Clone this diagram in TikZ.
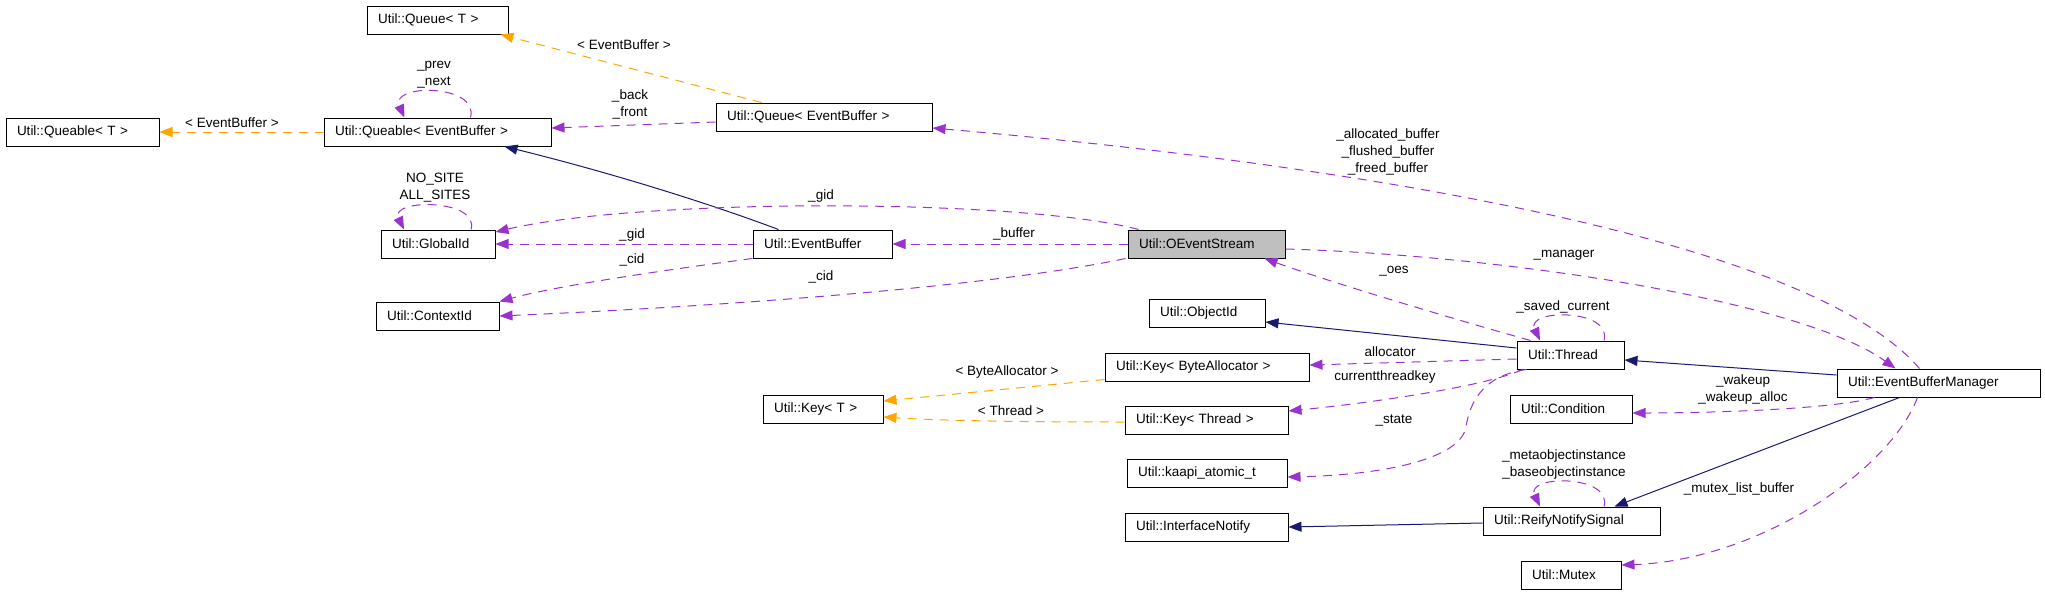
\documentclass[tikz,border=0pt]{standalone}
\usepackage{fontspec}
\setmainfont{Liberation Sans}
\usetikzlibrary{arrows.meta,calc}
\definecolor{edgeorange}{HTML}{FFA500}
\definecolor{edgepurple}{HTML}{9A32CD}
\definecolor{edgenavy}{HTML}{191970}
\definecolor{focusgray}{HTML}{BFBFBF}
\begin{document}
\begin{tikzpicture}[x=1pt,y=-1pt,
  font=\fontsize{13.5}{17}\selectfont,
  cls/.style={draw=black, line width=1pt, minimum height=28pt, inner xsep=11pt, inner ysep=0pt, align=left},
  lbl/.style={inner sep=0pt, align=center},
  tip/.style={-{Triangle[length=13pt,width=10pt]}},
  tmpl/.style={tip, draw=edgeorange, fill=none, line width=1pt, dash pattern=on 9pt off 7pt},
  usage/.style={tip, draw=edgepurple, line width=1pt, dash pattern=on 9pt off 7pt},
  inherit/.style={tip, draw=edgenavy, line width=1pt},
]
\useasboundingbox (0,0) rectangle (2045,595);

% classes
\node[cls, text width=119pt] (qT)   at (437.5,20)  {Util::Queue< T >};
\node[cls, text width=131pt] (qbT)  at (82.5,132)  {Util::Queable< T >};
\node[cls, text width=205pt] (qbE)  at (437.5,132) {Util::Queable< EventBuffer >};
\node[cls, text width=194pt] (qE)   at (824,117)   {Util::Queue< EventBuffer >};
\node[cls, text width=92pt]  (gid)  at (438,244)   {Util::GlobalId};
\node[cls, text width=101pt] (cid)  at (437.5,316) {Util::ContextId};
\node[cls, text width=117pt] (eb)   at (822.5,244) {Util::EventBuffer};
\node[cls, text width=135pt, fill=focusgray] (oes) at (1206.5,244) {Util::OEventStream};
\node[cls, text width=94pt]  (oid)  at (1207,313)  {Util::ObjectId};
\node[cls, text width=182pt] (kba)  at (1207,367)  {Util::Key< ByteAllocator >};
\node[cls, text width=98pt]  (kT)   at (823,409)   {Util::Key< T >};
\node[cls, text width=141pt] (kth)  at (1206.5,420) {Util::Key< Thread >};
\node[cls, text width=138pt] (kat)  at (1207,473)  {Util::kaapi\_atomic\_t};
\node[cls, text width=141pt] (inot) at (1206.5,527) {Util::InterfaceNotify};
\node[cls, text width=85pt]  (th)   at (1570.5,355) {Util::Thread};
\node[cls, text width=181pt] (ebm)  at (1938.5,383) {Util::EventBufferManager};
\node[cls, text width=100pt] (cond) at (1571,409)  {Util::Condition};
\node[cls, text width=155pt] (rns)  at (1571.5,521) {Util::ReifyNotifySignal};
\node[cls, text width=78pt]  (mtx)  at (1571,575)  {Util::Mutex};

% template instantiations
\draw[tmpl] (qbE.west) -- (qbT.east);
\node[lbl] (l1) at (232,123) {< EventBuffer >};
\draw[tmpl] ($(qE.north west)+(46,0)$) -- ($(qT.south east)+(-8,0)$);
\node[lbl] (l2) at (624,45) {< EventBuffer >};
\draw[tmpl] ($(kba.south west)+(0,-2)$) -- ($(kT.east)+(0,-8)$);
\node[lbl] (l3) at (1007,372) {< ByteAllocator >};
\draw[tmpl] ($(kth.west)+(0,2)$) .. controls (1000,422) and (930,420) .. ($(kT.east)+(0,8)$);
\node[lbl] (l4) at (1011,411) {< Thread >};

% inheritance
\draw[inherit] ($(eb.north west)+(26,0)$) .. controls (700,200) and (600,170) .. ($(qbE.south west)+(181,0)$);
\draw[inherit] ($(th.west)+(0,-7)$) -- ($(oid.east)+(0,9)$);
\draw[inherit] ($(ebm.west)+(0,-8)$) -- ($(th.east)+(0,5)$);
\draw[inherit] ($(ebm.south west)+(63,0)$) -- ($(rns.north east)+(-46,0)$);
\draw[inherit] ($(rns.west)+(0,2)$) -- (inot.east);

% usage
\draw[usage] ($(qE.west)+(0,5)$) -- ($(qbE.east)+(0,-4)$);
\node[lbl] (l5) at (630,104) {\_back\\\_front};
\draw[usage] ($(qbE.north)+(33,0)$) .. controls +(9,-34) and +(-15,-34) .. ($(qbE.north)+(-33,0)$);
\node[lbl] (l6) at (434,75) {\_prev\\\_next};
\draw[usage] ($(gid.north)+(33,0)$) .. controls +(9,-31) and +(-15,-31) .. ($(gid.north)+(-34,0)$);
\node[lbl] (l7) at (435,188) {NO\_SITE\\ALL\_SITES};
\draw[usage] ($(oes.north west)+(11,0)$) .. controls (1020,198) and (640,198) .. ($(gid.east)+(0,-12)$);
\node[lbl] (l8) at (821,196) {\_gid};
\draw[usage] (eb.west) -- (gid.east);
\node[lbl] (l9) at (632,235) {\_gid};
\draw[usage] (eb.south west) .. controls (680,268) and (560,285) .. (cid.north east);
\node[lbl] (l10) at (632,260) {\_cid};
\draw[usage] ($(oes.south west)+(-2,0)$) .. controls (1000,285) and (750,305) .. (cid.east);
\node[lbl] (l11) at (821,277) {\_cid};
\draw[usage] (oes.west) -- (eb.east);
\node[lbl] (l12) at (1014,234) {\_buffer};
\draw[usage] ($(th.north west)+(14,0)$) .. controls (1450,318) and (1330,282) .. ($(oes.south east)+(-21,0)$);
\node[lbl] (l13) at (1394,271) {\_oes};
\draw[usage] ($(oes.east)+(0,5)$) .. controls (1500,255) and (1800,300) .. ($(ebm.north west)+(59,0)$);
\node[lbl] (l14) at (1564,255) {\_manager};
\draw[usage] ($(ebm.north west)+(83,0)$) .. controls (1800,230) and (1300,160) .. ($(qE.east)+(0,11)$);
\node[lbl] (l15) at (1388,152) {\_allocated\_buffer\\\_flushed\_buffer\\\_freed\_buffer};
\draw[usage] ($(th.north)+(33.5,0)$) .. controls +(9,-32) and +(-15,-32) .. ($(th.north)+(-30.5,0)$);
\node[lbl] (l16) at (1563,307) {\_saved\_current};
\draw[usage] ($(th.west)+(0,4)$) -- ($(kba.east)+(0,-2)$);
\node[lbl] (l17) at (1390,352) {allocator};
\draw[usage] ($(th.south west)+(6,0)$) .. controls (1490,385) and (1380,402) .. ($(kth.east)+(0,-9)$);
\node[lbl] (l18) at (1385,377) {currentthreadkey};
\draw[usage] ($(th.south west)+(10,0)$) .. controls (1485,375) and (1470,400) .. (1466,427) .. controls (1460,460) and (1380,475) .. ($(kat.east)+(0,4)$);
\node[lbl] (l19) at (1394,420) {\_state};
\draw[usage] ($(ebm.south west)+(38,0)$) .. controls (1830,410) and (1700,413) .. ($(cond.east)+(0,4)$);
\node[lbl] (l20) at (1743,390) {\_wakeup\\\_wakeup\_alloc};
\draw[usage] ($(rns.north)+(32.5,0)$) .. controls +(9,-32) and +(-15,-32) .. ($(rns.north)+(-31.5,0)$);
\node[lbl] (l21) at (1564,465) {\_metaobjectinstance\\\_baseobjectinstance};
\draw[usage] ($(ebm.south west)+(81,0)$) .. controls (1890,470) and (1760,560) .. ($(mtx.east)+(0,-10)$);
\node[lbl] (l22) at (1739,489) {\_mutex\_list\_buffer};
\end{tikzpicture}
\end{document}
